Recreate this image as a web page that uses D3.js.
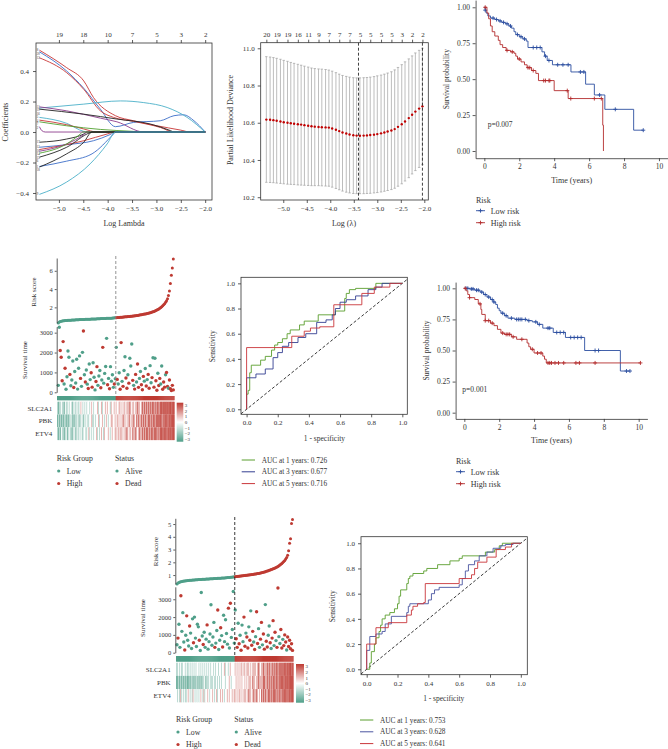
<!DOCTYPE html>
<html><head><meta charset="utf-8">
<script src="https://cdn.jsdelivr.net/npm/d3@7"></script>
<style>body{margin:0;background:#fff}svg{display:block}</style>
</head><body><svg id="c" width="668" height="749"></svg>
<script>
// ---------------- DATA ----------------
// Panel A: LASSO coefficient paths [logLambda, coefficient]
const coefTicksA = [-5.0,-4.5,-4.0,-3.5,-3.0,-2.5,-2.0];
const nonzeroA = ["19","18","10","7","5","3","2"];
const coefPaths = [
 [[-5.40,0.537],[-4.84,0.422],[-4.49,0.335],[-4.29,0.226],[-3.84,0.107],[-3.47,0.074],[-2.99,0.041],[-2.51,0.013],[-2.30,0],[-2.0,0]],
 [[-5.40,0.526],[-4.84,0.40],[-4.49,0.287],[-4.15,0.15],[-3.84,0.035],[-3.47,0.063],[-2.92,0.074],[-2.64,0.107],[-2.44,0.113],[-2.23,0.074],[-2.0,0]],
 [[-5.40,0.487],[-4.84,0.389],[-4.49,0.28],[-4.15,0.139],[-3.88,0.096],[-3.47,0.07],[-2.92,0.03],[-2.64,0],[-2.0,0]],
 [[-5.40,0.157],[-4.49,0.183],[-3.74,0.204],[-3.26,0.193],[-2.78,0.161],[-2.37,0.096],[-2.0,0]],
 [[-5.40,0.165],[-4.84,0.139],[-4.15,0.091],[-3.81,0.067],[-3.26,0],[-2.0,0]],
 [[-5.40,0.15],[-4.49,0.117],[-3.81,0.085],[-3.12,0.052],[-2.71,0.009],[-2.64,0],[-2.0,0]],
 [[-5.40,0.096],[-4.84,0.057],[-4.49,0.004],[-4.42,0],[-2.0,0]],
 [[-5.40,0.078],[-4.84,0.048],[-4.49,0.02],[-4.22,0],[-2.0,0]],
 [[-5.40,0.067],[-4.84,0.041],[-4.15,0.017],[-3.47,0.004],[-3.26,0],[-2.0,0]],
 [[-5.40,0.035],[-5.35,0.009],[-5.28,0],[-2.0,0]],
 [[-5.40,-0.067],[-4.84,-0.046],[-4.49,-0.013],[-4.42,0],[-2.0,0]],
 [[-5.40,-0.10],[-4.84,-0.083],[-4.29,-0.057],[-3.95,-0.017],[-3.84,0],[-2.0,0]],
 [[-5.40,-0.115],[-4.49,-0.057],[-4.01,-0.013],[-3.84,0],[-2.0,0]],
 [[-5.40,-0.126],[-4.84,-0.078],[-4.49,-0.017],[-4.42,0],[-2.0,0]],
 [[-5.40,-0.139],[-4.84,-0.078],[-4.56,-0.013],[-4.51,0],[-2.0,0]],
 [[-5.40,-0.165],[-4.84,-0.10],[-4.36,-0.004],[-4.32,0],[-2.0,0]],
 [[-5.40,-0.226],[-4.84,-0.191],[-4.32,-0.143],[-3.88,-0.013],[-3.84,0],[-2.0,0]],
 [[-5.40,-0.23],[-4.84,-0.143],[-4.49,-0.067],[-4.32,0],[-2.0,0]],
 [[-5.40,-0.409],[-4.84,-0.328],[-4.36,-0.209],[-4.01,-0.078],[-3.84,0],[-2.0,0]]
];
const coefLabels = ["8","20","13","19","11","16","5","4","7","2","17","12","10","14","15","6","1","18","9"];
const coefColors = ["#c83737","#3c6ec8","#c83737","#4bb0c8","#8c3c8c","#222222","#4bb0c8","#c83737","#50a030","#8c3c8c","#222222","#3c6ec8","#c83737","#8c3c8c","#50a030","#222222","#3c6ec8","#222222","#4bb0c8"];

// Panel B: cross-validation
const cvLambda = [-5.36,-5.28,-5.21,-5.14,-5.06,-4.99,-4.91,-4.84,-4.77,-4.69,-4.62,-4.55,-4.47,-4.40,-4.33,-4.25,-4.18,-4.10,-4.03,-3.96,-3.88,-3.81,-3.74,-3.66,-3.59,-3.51,-3.44,-3.37,-3.29,-3.22,-3.15,-3.07,-3.00,-2.92,-2.85,-2.78,-2.70,-2.63,-2.56,-2.48,-2.41,-2.33,-2.26,-2.19,-2.11,-2.04];
const cvMean = [10.617,10.616,10.614,10.611,10.607,10.603,10.600,10.597,10.595,10.592,10.590,10.587,10.584,10.581,10.579,10.577,10.576,10.575,10.574,10.569,10.562,10.555,10.548,10.542,10.537,10.533,10.531,10.530,10.531,10.532,10.534,10.536,10.539,10.543,10.548,10.553,10.558,10.566,10.578,10.592,10.607,10.625,10.643,10.660,10.676,10.688];
const cvUpper = [10.955,10.953,10.950,10.946,10.941,10.935,10.930,10.924,10.919,10.914,10.909,10.904,10.899,10.894,10.891,10.889,10.888,10.886,10.883,10.877,10.869,10.861,10.854,10.849,10.845,10.842,10.841,10.841,10.842,10.843,10.845,10.848,10.852,10.856,10.861,10.867,10.874,10.884,10.897,10.912,10.927,10.943,10.959,10.975,10.989,11.000];
const cvLower = [10.280,10.279,10.278,10.276,10.274,10.272,10.270,10.269,10.268,10.266,10.265,10.264,10.263,10.262,10.262,10.262,10.261,10.260,10.259,10.254,10.247,10.240,10.233,10.227,10.223,10.220,10.219,10.219,10.219,10.220,10.221,10.223,10.225,10.228,10.232,10.236,10.241,10.248,10.259,10.272,10.287,10.305,10.325,10.343,10.360,10.375];
const cvTopLabels = ["20","19","19","16","11","9","7","7","7","5","5","5","5","3","2","2"];
const cvYTicks = [10.2,10.4,10.6,10.8,11.0];
const lambdaMin = -3.40, lambda1se = -2.04;

// Panel C: KM (training)
const kmC_lowT = [0,0.05,0.1,0.2,0.35,0.6,0.8,1.0,1.2,1.4,1.55,1.7,1.8,2.0,2.2,2.4,2.5,3.3,3.45,3.6,3.9,4.96,5.8,6.3,6.9,8.55];
const kmC_lowS = [1.0,0.98,0.96,0.94,0.925,0.915,0.905,0.895,0.885,0.87,0.855,0.83,0.81,0.795,0.78,0.765,0.72,0.69,0.66,0.63,0.60,0.55,0.465,0.39,0.29,0.145];
const kmC_lowEnd = 9.1;
const kmC_lowCens = [0.05,0.5,0.7,0.9,1.1,1.3,1.5,1.9,2.1,2.3,2.8,3.0,3.2,3.5,3.7,4.2,4.5,4.8,5.5,5.7,6.6,7.5,9.1];
const kmC_highT = [0,0.15,0.25,0.35,0.45,0.6,0.8,0.9,1.05,1.25,1.5,1.7,1.8,1.9,2.1,2.3,2.45,2.7,2.95,3.1,4.0,4.8,6.78,6.82];
const kmC_highS = [1.0,0.96,0.92,0.87,0.83,0.80,0.77,0.74,0.72,0.70,0.69,0.68,0.66,0.64,0.62,0.60,0.58,0.56,0.54,0.49,0.42,0.365,0.18,0.0];
const kmC_highEnd = 6.82;
const kmC_highCens = [0.05,1.3,1.6,2.0,2.5,2.6,2.8,3.4,3.5,3.7,3.75,4.75,4.95,6.3,6.7];
const kmC_p = "p=0.007";

// Panel F: KM (validation)
const kmF_lowT = [0,0.3,0.6,0.9,1.1,1.3,1.5,1.65,1.8,1.9,2.0,2.1,2.3,2.5,2.9,3.6,3.9,4.2,4.5,5.1,5.8,6.9,8.95];
const kmF_lowS = [1.0,0.995,0.985,0.97,0.95,0.93,0.91,0.89,0.87,0.84,0.82,0.80,0.78,0.76,0.75,0.74,0.73,0.71,0.68,0.645,0.605,0.50,0.335];
const kmF_lowEnd = 9.5;
const kmF_lowCens = [0.1,0.2,0.4,0.5,0.7,0.8,1.0,1.2,1.4,1.6,1.7,2.2,2.4,2.7,3.0,3.1,3.2,3.3,3.5,3.7,4.1,4.3,4.8,4.9,5.3,5.5,5.7,6.1,6.3,6.5,6.7,7.5,7.7,9.3,9.5];
const kmF_highT = [0,0.1,0.2,0.3,0.6,0.8,0.95,1.0,1.2,1.5,1.7,1.9,2.1,2.3,2.7,3.0,3.6,3.7,3.8,4.0,4.5,4.6,4.7];
const kmF_highS = [1.0,0.98,0.95,0.925,0.91,0.875,0.83,0.79,0.74,0.72,0.70,0.67,0.64,0.63,0.61,0.59,0.56,0.53,0.51,0.48,0.455,0.43,0.40];
const kmF_highEnd = 10.1;
const kmF_highCens = [0.05,0.3,0.9,1.2,1.4,1.6,2.2,2.4,2.5,2.6,2.8,3.3,3.9,4.2,4.4,4.8,4.9,5.0,5.2,5.4,5.7,6.4,6.6,7.5,10.1];
const kmF_p = "p=0.001";
const kmXTicks = [0,2,4,6,8,10];
const kmYTicks = [0,0.25,0.5,0.75,1.0];
const kmLegend = ["Low risk","High risk"];

// Panel D: risk plot (training)
const riskD = [0.30,0.40,0.45,0.49,0.51,0.53,0.54,0.55,0.56,0.57,0.58,0.59,0.60,0.60,0.61,0.62,0.62,0.63,0.64,0.64,0.65,0.65,0.66,0.66,0.67,0.67,0.68,0.68,0.69,0.69,0.70,0.70,0.71,0.71,0.72,0.72,0.73,0.73,0.74,0.74,0.75,0.75,0.76,0.76,0.77,0.77,0.78,0.78,0.79,0.79,0.80,0.80,0.81,0.81,0.82,0.82,0.83,0.84,0.85,0.86,
 0.87,0.88,0.89,0.90,0.91,0.92,0.93,0.94,0.95,0.96,0.97,0.98,0.99,1.00,1.01,1.02,1.04,1.05,1.06,1.08,1.09,1.11,1.12,1.14,1.16,1.18,1.20,1.22,1.24,1.26,1.28,1.30,1.33,1.36,1.39,1.42,1.45,1.48,1.52,1.56,1.60,1.65,1.70,1.76,1.82,1.90,1.98,2.07,2.17,2.28,2.40,2.55,2.72,2.95,3.30,3.80,4.60,5.50,6.30,7.30];
const lowCountD = 60;
const timeD = [350,3270,2100,1760,580,2550,420,1210,150,780,2080,1760,900,330,620,1575,240,1050,470,1660,160,1210,1830,700,300,2010,3080,880,520,1120,410,190,1425,640,980,260,1490,760,120,540,1290,350,820,1100,230,620,2260,460,950,1300,2715,380,700,180,1290,560,880,250,420,680,
 2260,650,420,980,150,2500,550,300,1100,1790,720,200,880,460,1710,1320,2430,600,350,160,900,520,1425,250,700,1050,380,130,800,560,1200,320,640,900,200,1340,480,740,1740,260,1710,580,100,960,340,700,420,1320,150,520,260,880,1000,300,200,620,180,90,350,120];
const statusD = "001111010000100010000001001010010011000110001010000101000010" + "010011010011010001011011001110010110010101101100111011011111";
const heatD = [
 "212232213223233123223223432323233234323334233423343433243343"+"433443434434445434434454434545454545455454554565565656566566",
 "121212122121223121222312232132322334223233423343234323344334"+"344343445343445344543545445454544554545545555564555655565666",
 "212132212312322123213223231332234232323342323432433343234334"+"434435343445434435445434544545455454554555454565556555656566"];
const riskTicksD = [2,4,6];
const timeTicks = [0,1000,2000,3000];
const genes = ["SLC2A1","PBK","ETV4"];

// Panel G: risk plot (validation)
const riskG = [0.30,0.38,0.42,0.45,0.48,0.50,0.52,0.53,0.54,0.55,0.56,0.57,0.58,0.59,0.60,0.60,0.61,0.62,0.62,0.63,0.64,0.64,0.65,0.65,0.66,0.66,0.67,0.67,0.68,0.68,0.69,0.69,0.70,0.70,0.71,0.71,0.72,0.72,0.73,0.73,0.74,0.74,0.75,0.75,0.76,0.76,0.77,0.77,0.78,0.78,0.79,0.79,0.80,0.80,0.81,0.82,0.83,0.84,0.85,0.86,
 0.87,0.88,0.89,0.90,0.91,0.92,0.93,0.94,0.95,0.96,0.97,0.98,0.99,1.00,1.01,1.02,1.03,1.04,1.05,1.06,1.08,1.09,1.10,1.12,1.13,1.15,1.17,1.19,1.21,1.23,1.25,1.27,1.29,1.31,1.34,1.37,1.40,1.43,1.46,1.49,1.52,1.56,1.60,1.64,1.68,1.73,1.78,1.84,1.91,1.98,2.06,2.15,2.25,2.38,2.55,2.90,3.50,3.85,5.05,5.35];
const lowCountG = 60;
const timeG = [450,820,1600,300,3200,1200,2250,600,150,980,2070,700,380,1500,1100,240,1900,560,2000,820,350,1600,1450,700,120,3380,940,460,1150,300,760,1560,200,620,1050,2690,420,880,1700,300,540,1250,2400,180,700,1400,960,320,2100,620,1850,1080,480,2500,260,2780,860,1300,3440,540,
 2400,780,300,1650,500,980,140,1550,620,2000,360,1100,880,260,1450,700,2350,420,1200,600,180,900,2300,520,1350,300,760,1700,440,1050,200,2700,640,320,980,1500,560,240,820,1800,400,1150,680,300,3630,900,520,1300,260,750,400,1000,600,150,880,350,700,220,500,130];
const statusG = "010010001010010001000001000100010000000100100101000001010000" + "011010100110110101101011001101101100101101011001101110111111";
const heatG = [
 "223232233232232323232332323232323232332323323323342332343333"+"434343443443444343444434543445444545445454554555555655656656",
 "112121212121121221212212121223122232223223232323332333432333"+"343434343343434443544344544445544545454554554555655565656666",
 "323242323223432324323232343242334323343234233434323343433434"+"434344343444345443454454343545454455454555454554555655556566"];
const riskTicksG = [1,2,3,4,5];

// Panels E, H: time-dependent ROC [1-specificity, sensitivity]
const rocE1 = [[0,0],[0,0.12],[0.01,0.12],[0.01,0.15],[0.02,0.15],[0.02,0.29],[0.03,0.29],[0.03,0.35],[0.09,0.35],[0.09,0.39],[0.12,0.39],[0.12,0.42],[0.16,0.42],[0.16,0.47],[0.18,0.47],[0.18,0.51],[0.2,0.51],[0.2,0.53],[0.23,0.53],[0.23,0.56],[0.26,0.56],[0.26,0.6],[0.28,0.6],[0.28,0.63],[0.34,0.63],[0.34,0.67],[0.37,0.67],[0.37,0.7],[0.46,0.7],[0.46,0.75],[0.57,0.75],[0.57,0.78],[0.63,0.78],[0.63,0.88],[0.64,0.88],[0.64,0.92],[0.66,0.92],[0.66,0.95],[0.7,0.95],[0.7,0.96],[0.83,0.96],[0.83,1],[1,1]];
const rocE3 = [[0,0],[0,0.25],[0.06,0.25],[0.06,0.28],[0.12,0.28],[0.12,0.32],[0.17,0.32],[0.17,0.41],[0.2,0.41],[0.2,0.45],[0.23,0.45],[0.23,0.5],[0.27,0.5],[0.27,0.53],[0.33,0.53],[0.33,0.57],[0.38,0.57],[0.38,0.6],[0.45,0.6],[0.45,0.69],[0.51,0.69],[0.51,0.71],[0.55,0.71],[0.55,0.75],[0.57,0.75],[0.57,0.8],[0.6,0.8],[0.6,0.85],[0.64,0.85],[0.64,0.87],[0.7,0.87],[0.7,0.9],[0.78,0.9],[0.78,0.95],[0.83,0.95],[0.83,0.97],[0.87,0.97],[0.87,1],[1,1]];
const rocE5 = [[0,0],[0,0.49],[0.29,0.49],[0.29,0.58],[0.37,0.58],[0.37,0.62],[0.41,0.62],[0.41,0.645],[0.47,0.645],[0.47,0.655],[0.56,0.655],[0.56,0.83],[0.74,0.83],[0.74,0.92],[0.82,0.92],[0.82,0.97],[0.92,0.97],[0.92,1],[1,1]];
const aucE = ["AUC at 1 years: 0.726","AUC at 3 years: 0.677","AUC at 5 years: 0.716"];
const rocH1 = [[0,0],[0.02,0],[0.02,0.05],[0.03,0.05],[0.03,0.14],[0.05,0.14],[0.05,0.2],[0.06,0.2],[0.06,0.25],[0.08,0.25],[0.08,0.3],[0.09,0.3],[0.09,0.35],[0.1,0.35],[0.1,0.4],[0.12,0.4],[0.12,0.43],[0.15,0.43],[0.15,0.45],[0.18,0.45],[0.18,0.48],[0.2,0.48],[0.2,0.52],[0.21,0.52],[0.21,0.58],[0.22,0.58],[0.22,0.63],[0.26,0.63],[0.26,0.68],[0.27,0.68],[0.27,0.72],[0.28,0.72],[0.28,0.74],[0.3,0.74],[0.3,0.76],[0.37,0.76],[0.37,0.78],[0.39,0.78],[0.39,0.8],[0.46,0.8],[0.46,0.83],[0.54,0.83],[0.54,0.86],[0.6,0.86],[0.6,0.88],[0.62,0.88],[0.62,0.9],[0.77,0.9],[0.77,0.93],[0.83,0.93],[0.83,0.95],[0.86,0.95],[0.86,0.98],[0.88,0.98],[0.88,1],[1,1]];
const rocH3 = [[0,0],[0,0.15],[0.02,0.15],[0.02,0.26],[0.06,0.26],[0.06,0.28],[0.1,0.28],[0.1,0.3],[0.12,0.3],[0.12,0.36],[0.16,0.36],[0.16,0.42],[0.26,0.42],[0.26,0.45],[0.27,0.45],[0.27,0.5],[0.28,0.5],[0.28,0.52],[0.4,0.52],[0.4,0.55],[0.42,0.55],[0.42,0.6],[0.44,0.6],[0.44,0.63],[0.47,0.63],[0.47,0.65],[0.6,0.65],[0.6,0.67],[0.62,0.67],[0.62,0.72],[0.64,0.72],[0.64,0.78],[0.66,0.78],[0.66,0.83],[0.7,0.83],[0.7,0.86],[0.73,0.86],[0.73,0.9],[0.78,0.9],[0.78,0.93],[0.82,0.93],[0.82,0.96],[0.87,0.96],[0.87,0.98],[0.9,0.98],[0.9,0.99],[0.95,0.99],[0.95,1],[1,1]];
const rocH5 = [[0,0],[0,0.2],[0.06,0.2],[0.06,0.33],[0.14,0.33],[0.14,0.37],[0.26,0.37],[0.26,0.43],[0.29,0.43],[0.29,0.47],[0.3,0.47],[0.3,0.5],[0.33,0.5],[0.33,0.52],[0.37,0.52],[0.37,0.53],[0.38,0.53],[0.38,0.68],[0.6,0.68],[0.6,0.72],[0.68,0.72],[0.68,0.75],[0.7,0.75],[0.7,0.8],[0.72,0.8],[0.72,0.85],[0.78,0.85],[0.78,0.89],[0.84,0.89],[0.84,0.95],[0.9,0.95],[0.9,0.97],[0.94,0.97],[0.94,1],[1,1]];
const aucH = ["AUC at 1 years: 0.753","AUC at 3 years: 0.628","AUC at 5 years: 0.641"];
const rocTicks = [0,0.2,0.4,0.6,0.8,1.0];

// ---------------- DRAWING ----------------
const FONT = '"Liberation Serif","DejaVu Serif",serif';
const INK = "#333";
const TEAL = "#4f9f89", RED = "#be3a32";
const KMBLUE = "#2c4fa0", KMRED = "#b32d2e";
const ROCG = "#5a9e2e", ROCB = "#343f92", ROCR = "#c9353a";
const svg = d3.select("#c");

function styleAxis(g, fs, keepDomain) {
  g.selectAll("text").attr("font-size", fs).attr("fill", INK).attr("font-family", FONT);
  g.selectAll("line").attr("stroke", INK).attr("stroke-width", 0.8);
  g.select(".domain").attr("stroke", INK).attr("stroke-width", 0.8);
  if (!keepDomain) g.select(".domain").remove();
}
function text(x, y, s, fs, anchor, rot) {
  const t = svg.append("text").attr("font-family", FONT).attr("font-size", fs).attr("fill", INK)
    .attr("text-anchor", anchor || "start").text(s);
  if (rot) t.attr("transform", `translate(${x},${y}) rotate(${rot})`);
  else t.attr("x", x).attr("y", y);
  return t;
}
const f1 = d3.format(".1f"), f2 = d3.format(".2f"), fd = d3.format("d");

// ===== Panel A =====
{
  const x = d3.scaleLinear().domain([-5.47, -1.86]).range([36, 212]);
  const y = d3.scaleLinear().domain([-0.446, 0.584]).range([200, 43]);
  const line = d3.line().x(d => x(d[0])).y(d => y(d[1])).curve(d3.curveMonotoneX);
  coefPaths.forEach((p, i) => {
    svg.append("path").attr("d", line(p)).attr("fill", "none").attr("stroke", coefColors[i]).attr("stroke-width", 0.9);
  });
  const labs = coefPaths.map((p, i) => ({ t: coefLabels[i], y: y(p[0][1]) + 1.1 })).sort((a, b) => a.y - b.y);
  for (let k = 1; k < labs.length; k++) if (labs[k].y - labs[k - 1].y < 3.4) labs[k].y = labs[k - 1].y + 3.4;
  labs.forEach(l => svg.append("text").attr("x", 36.8).attr("y", l.y).attr("font-size", 3).attr("font-family", FONT).attr("fill", INK).text(l.t));
  svg.append("rect").attr("x", 36).attr("y", 43).attr("width", 176).attr("height", 157).attr("fill", "none").attr("stroke", INK).attr("stroke-width", 0.8);
  svg.append("g").attr("transform", "translate(0,200)").call(d3.axisBottom(x).tickValues(coefTicksA).tickFormat(f1).tickSize(3).tickPadding(3)).call(styleAxis, 7);
  svg.append("g").attr("transform", "translate(0,43)").call(d3.axisTop(x).tickValues(coefTicksA).tickFormat((d, i) => nonzeroA[i]).tickSize(3).tickPadding(3)).call(styleAxis, 7);
  svg.append("g").attr("transform", "translate(36,0)").call(d3.axisLeft(y).tickValues([-0.4, -0.2, 0, 0.2, 0.4]).tickFormat(f1).tickSize(3).tickPadding(4)).call(styleAxis, 7);
  text(124, 226, "Log Lambda", 8, "middle");
  text(8, 122, "Coefficients", 8, "middle", -90);
}

// ===== Panel B =====
{
  const x = d3.scaleLinear().domain([-5.48, -1.915]).range([260.7, 428.3]);
  const y = d3.scaleLinear().domain([10.185, 11.03]).range([200, 42.7]);
  const g = svg.append("g");
  cvLambda.forEach((l, i) => {
    g.append("line").attr("x1", x(l)).attr("x2", x(l)).attr("y1", y(cvLower[i])).attr("y2", y(cvUpper[i])).attr("stroke", "#a0a0a0").attr("stroke-width", 0.7);
    [cvLower[i], cvUpper[i]].forEach(v => g.append("line").attr("x1", x(l) - 1.2).attr("x2", x(l) + 1.2).attr("y1", y(v)).attr("y2", y(v)).attr("stroke", "#a0a0a0").attr("stroke-width", 0.7));
  });
  cvLambda.forEach((l, i) => g.append("circle").attr("cx", x(l)).attr("cy", y(cvMean[i])).attr("r", 1.2).attr("fill", "#c00000"));
  [lambdaMin, lambda1se].forEach(l => g.append("line").attr("x1", x(l)).attr("x2", x(l)).attr("y1", 42.7).attr("y2", 200).attr("stroke", "#111").attr("stroke-width", 0.8).attr("stroke-dasharray", "3,2"));
  svg.append("rect").attr("x", 260.7).attr("y", 42.7).attr("width", 167.6).attr("height", 157.3).attr("fill", "none").attr("stroke", INK).attr("stroke-width", 0.8);
  svg.append("g").attr("transform", "translate(0,200)").call(d3.axisBottom(x).tickValues(coefTicksA).tickFormat(f1).tickSize(3).tickPadding(3)).call(styleAxis, 7);
  const topIdx = cvTopLabels.map((d, i) => cvLambda[i * 3]);
  svg.append("g").attr("transform", "translate(0,42.7)").call(d3.axisTop(x).tickValues(topIdx).tickFormat((d, i) => cvTopLabels[i]).tickSize(3).tickPadding(3)).call(styleAxis, 7);
  svg.append("g").attr("transform", "translate(260.7,0)").call(d3.axisLeft(y).tickValues(cvYTicks).tickFormat(f1).tickSize(3).tickPadding(3)).call(styleAxis, 7);
  text(344, 226, "Log (λ)", 8, "middle");
  text(233, 120, "Partial Likelihood Deviance", 8, "middle", -90);
}

// ===== KM helper =====
function kmPanel(o) {
  const x = d3.scaleLinear().domain([-0.5, 10.5]).range(o.xr);
  const y = d3.scaleLinear().domain([-0.05, 1.05]).range(o.yr);
  const line = d3.line().x(d => x(d[0])).y(d => y(d[1])).curve(d3.curveStepAfter);
  o.series.forEach(s => {
    const pts = s.T.map((t, i) => [t, s.S[i]]);
    pts.push([s.end, s.S[s.S.length - 1]]);
    svg.append("path").attr("d", line(pts)).attr("fill", "none").attr("stroke", s.col).attr("stroke-width", 0.9);
    s.cens.forEach(c => {
      let v = s.S[0];
      s.T.forEach((t, i) => { if (t <= c) v = s.S[i]; });
      const cx = x(c), cy = y(v);
      svg.append("path").attr("d", `M${cx - 2},${cy}H${cx + 2}M${cx},${cy - 2}V${cy + 2}`).attr("stroke", s.col).attr("stroke-width", 0.9);
    });
  });
  svg.append("g").attr("transform", `translate(0,${o.yr[0]})`).call(d3.axisBottom(x).tickValues(kmXTicks).tickFormat(fd).tickSize(3).tickSizeOuter(0).tickPadding(2.5)).call(styleAxis, 7.5, true);
  svg.append("g").attr("transform", `translate(${o.xr[0]},0)`).call(d3.axisLeft(y).tickValues(kmYTicks).tickFormat(f2).tickSize(3).tickSizeOuter(0).tickPadding(2.5)).call(styleAxis, 7.5, true);
  text((x(0) + x(10)) / 2, o.yr[0] + 24.5, "Time (years)", 8, "middle");
  text(o.xr[0] - 26.5, (y(0) + y(1)) / 2, "Survival probability", 7.5, "middle", -90);
  text(o.p[0], o.p[1], o.pText, 7.5, "start");
  text(o.leg[0], o.leg[1], "Risk", 8, "start");
  o.series.forEach((s, i) => {
    const ly = o.leg[1] + 7.7 + i * 12;
    svg.append("line").attr("x1", o.leg[0]).attr("x2", o.leg[0] + 9).attr("y1", ly).attr("y2", ly).attr("stroke", s.col).attr("stroke-width", 0.9);
    svg.append("path").attr("d", `M${o.leg[0] + 2.5},${ly}H${o.leg[0] + 6.5}M${o.leg[0] + 4.5},${ly - 2}V${ly + 2}`).attr("stroke", s.col).attr("stroke-width", 0.9);
    text(o.leg[0] + 14.7, ly + 2.8, kmLegend[i], 8, "start");
  });
}
kmPanel({ xr: [475.6, 667.7], yr: [158.2, 0.1], p: [487.7, 127], pText: kmC_p, leg: [476, 203],
  series: [{ T: kmC_lowT, S: kmC_lowS, end: kmC_lowEnd, cens: kmC_lowCens, col: KMBLUE },
           { T: kmC_highT, S: kmC_highS, end: kmC_highEnd, cens: kmC_highCens, col: KMRED }] });
kmPanel({ xr: [455.6, 647.4], yr: [418.9, 282.1], p: [462.3, 392], pText: kmF_p, leg: [456, 464],
  series: [{ T: kmF_lowT, S: kmF_lowS, end: kmF_lowEnd, cens: kmF_lowCens, col: KMBLUE },
           { T: kmF_highT, S: kmF_highS, end: kmF_highEnd, cens: kmF_highCens, col: KMRED }] });

// ===== ROC helper =====
function rocPanel(o) {
  const x = d3.scaleLinear().domain(o.xd).range([o.box[0], o.box[2]]);
  const y = d3.scaleLinear().domain(o.yd).range([o.box[3], o.box[1]]);
  const line = d3.line().x(d => x(d[0])).y(d => y(d[1]));
  svg.append("line").attr("x1", x(Math.max(o.xd[0], o.yd[0]))).attr("y1", y(Math.max(o.xd[0], o.yd[0])))
    .attr("x2", x(Math.min(o.xd[1], o.yd[1]))).attr("y2", y(Math.min(o.xd[1], o.yd[1])))
    .attr("stroke", "#222").attr("stroke-width", 0.9).attr("stroke-dasharray", "3,2");
  o.curves.forEach(c => svg.append("path").attr("d", line(c.d)).attr("fill", "none").attr("stroke", c.col).attr("stroke-width", 0.9));
  svg.append("rect").attr("x", o.box[0]).attr("y", o.box[1]).attr("width", o.box[2] - o.box[0]).attr("height", o.box[3] - o.box[1]).attr("fill", "none").attr("stroke", INK).attr("stroke-width", 0.8);
  svg.append("g").attr("transform", `translate(0,${o.box[3]})`).call(d3.axisBottom(x).tickValues(rocTicks).tickFormat(f1).tickSize(3).tickPadding(3)).call(styleAxis, 7);
  svg.append("g").attr("transform", `translate(${o.box[0]},0)`).call(d3.axisLeft(y).tickValues(rocTicks).tickFormat(f1).tickSize(3).tickPadding(3)).call(styleAxis, 7);
  text((x(0) + x(1)) / 2, o.box[3] + 26.5, "1 - specificity", 7.5, "middle");
  text(o.box[0] - 26, (y(0) + y(1)) / 2, "Sensitivity", 7.5, "middle", -90);
  o.curves.forEach((c, i) => {
    const ly = o.leg[1] + i * 11.8;
    svg.append("line").attr("x1", o.leg[0]).attr("x2", o.leg[0] + 13.3).attr("y1", ly).attr("y2", ly).attr("stroke", c.col).attr("stroke-width", 1);
    text(o.leg[0] + 20, ly + 2.6, o.labels[i], 7.3, "start");
  });
}
rocPanel({ box: [241, 277.3, 407.3, 414.3], xd: [-0.036, 1.032], yd: [-0.04, 1.048], leg: [241.7, 460], labels: aucE,
  curves: [{ d: rocE1, col: ROCG }, { d: rocE3, col: ROCB }, { d: rocE5, col: ROCR }] });
rocPanel({ box: [361, 536.7, 527.3, 674.7], xd: [-0.037, 1.042], yd: [-0.043, 1.052], leg: [360, 720], labels: aucH,
  curves: [{ d: rocH1, col: ROCG }, { d: rocH3, col: "#4a55a0" }, { d: rocH5, col: ROCR }] });

// ===== Risk plot helper =====
const heatColor = d3.scaleLinear().domain([-2.6, 0, 2.6]).range([TEAL, "#ffffff", RED]).clamp(true);
let gradCount = 0;
function riskPanel(o) {
  const n = o.risk.length;
  const xs = d3.scaleLinear().domain([0, n - 1]).range(o.xr);
  const xb = d3.scaleBand().domain(d3.range(n)).range(o.hr);
  const yr = d3.scaleLinear().domain(o.riskDom).range(o.riskR);
  const yt = d3.scaleLinear().domain(o.timeDom).range(o.timeR);
  const isHigh = i => i >= o.nLow;
  o.risk.forEach((v, i) => svg.append("circle").attr("cx", xs(i)).attr("cy", yr(v)).attr("r", 1.5).attr("fill", isHigh(i) ? RED : TEAL));
  o.time.forEach((v, i) => svg.append("circle").attr("cx", xs(i)).attr("cy", yt(v)).attr("r", 1.7).attr("fill", o.status[i] === "1" ? RED : TEAL));
  svg.append("g").attr("transform", `translate(${o.axisX},0)`).call(d3.axisLeft(yr).tickValues(o.riskTicks).tickFormat(fd).tickSize(2).tickSizeOuter(0).tickPadding(2)).call(styleAxis, 6.5, true);
  svg.append("g").attr("transform", `translate(${o.axisX},0)`).call(d3.axisLeft(yt).tickValues(timeTicks).tickFormat(fd).tickSize(2).tickSizeOuter(0).tickPadding(2)).call(styleAxis, 6.5, true);
  text(o.riskLab[0], o.riskLab[1], "Risk score", 7, "middle", -90);
  text(o.timeLab[0], o.timeLab[1], "Survival time", 7, "middle", -90);
  const cx = (xs(o.nLow - 1) + xs(o.nLow)) / 2;
  svg.append("line").attr("x1", cx).attr("x2", cx).attr("y1", o.dash[0]).attr("y2", o.dash[1]).attr("stroke", o.dashCol).attr("stroke-width", 0.9).attr("stroke-dasharray", "3,2");
  d3.range(n).forEach(i => svg.append("rect").attr("x", xb(i)).attr("y", o.bar[0]).attr("width", xb.bandwidth() + 0.3).attr("height", o.bar[1] - o.bar[0]).attr("fill", isHigh(i) ? RED : TEAL));
  o.heat.forEach((row, r) => {
    row.split("").forEach((c, i) => svg.append("rect").attr("x", xb(i)).attr("y", o.hy + r * o.rowH)
      .attr("width", xb.bandwidth() + 0.3).attr("height", o.rowH).attr("fill", heatColor(+c - 3)));
    text(o.geneX, o.hy + r * o.rowH + o.rowH / 2 + 2.5, genes[r], 7, "end");
  });
  const id = "grad" + (gradCount++);
  const gr = svg.append("defs").append("linearGradient").attr("id", id).attr("x1", 0).attr("x2", 0).attr("y1", 0).attr("y2", 1);
  [3, 0, -3].forEach((v, i) => gr.append("stop").attr("offset", i / 2).attr("stop-color", heatColor(v)));
  svg.append("rect").attr("x", o.key[0]).attr("y", o.key[1]).attr("width", o.key[2]).attr("height", o.key[3]).attr("fill", `url(#${id})`);
  const ky = d3.scaleLinear().domain([3, -3]).range([o.key[1] + 2.5, o.key[1] + o.key[3] - 2.5]);
  [3, 2, 1, 0, -1, -2, -3].forEach(v => text(o.key[0] + o.key[2] + 1.5, ky(v) + 1.8, fd(v), 5, "start"));
  text(o.leg[0], o.leg[1], "Risk Group", 7.8, "start");
  text(o.leg[2], o.leg[1], "Status", 7.8, "start");
  [["Low", TEAL, "Alive"], ["High", RED, "Dead"]].forEach((d, i) => {
    const ly = o.leg[1] + 10 + i * 12.5;
    svg.append("circle").attr("cx", o.leg[0] + 2).attr("cy", ly).attr("r", 1.6).attr("fill", d[1]);
    text(o.leg[0] + 10, ly + 2.8, d[0], 7.8, "start");
    svg.append("circle").attr("cx", o.leg[2] + 2).attr("cy", ly).attr("r", 1.6).attr("fill", d[1]);
    text(o.leg[2] + 10, ly + 2.8, d[2], 7.8, "start");
  });
}
riskPanel({ risk: riskD, time: timeD, status: statusD, heat: heatD, nLow: lowCountD,
  xr: [58.3, 173.3], hr: [57, 174.3], riskDom: [0.3, 7.4], riskR: [322.9, 258], riskTicks: riskTicksD,
  timeDom: [0, 3300], timeR: [392.3, 326.7], axisX: 56.7, riskLab: [35.5, 292], timeLab: [26.5, 360],
  dash: [256, 395.5], dashCol: "#888", bar: [396, 400.3], hy: 401.7, rowH: 12.8, geneX: 52.3,
  key: [176.7, 402.7, 6.6, 39], leg: [56.7, 461, 115] });
riskPanel({ risk: riskG, time: timeG, status: statusG, heat: heatG, nLow: lowCountG,
  xr: [177, 292.5], hr: [176, 293.3], riskDom: [0.3, 5.45], riskR: [584, 518.3], riskTicks: riskTicksG,
  timeDom: [0, 3700], timeR: [652.7, 586.8], axisX: 175.3, riskLab: [157.5, 551.7], timeLab: [145, 618],
  dash: [517, 656], dashCol: "#222", bar: [656, 661.7], hy: 662.7, rowH: 13.2, geneX: 170.7,
  key: [296, 664, 8, 38.7], leg: [176, 722, 234.3] });
</script></body></html>
